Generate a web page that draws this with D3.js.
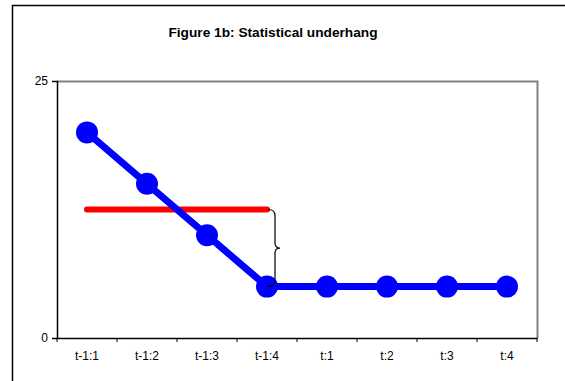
<!DOCTYPE html>
<html>
<head>
<meta charset="utf-8">
<script src="https://cdn.jsdelivr.net/npm/d3@7"></script>
<style>
  html, body { margin: 0; padding: 0; background: #fff; }
  svg { display: block; font-family: "Liberation Sans", Arial, sans-serif; }
</style>
</head>
<body>
<svg id="chart" width="565" height="381"></svg>
<script>
// Quarters of the previous year (t-1) and current year (t)
const categories = ["t-1:1", "t-1:2", "t-1:3", "t-1:4", "t:1", "t:2", "t:3", "t:4"];
// Quarterly level series
const quarterly = [20, 15, 10, 5, 5, 5, 5, 5];
// Annual average of the previous year, drawn across its four quarters
const prevYearCats = ["t-1:1", "t-1:2", "t-1:3", "t-1:4"];
const prevYearAverage = d3.mean(quarterly.slice(0, 4));
const yTicks = [0, 25];
const title = "Figure 1b: Statistical underhang";

const FONT = "'Liberation Sans', Arial, sans-serif";
const svg = d3.select("#chart");
const plot = { left: 57, right: 537, top: 81, bottom: 338 };

// Outer frame
svg.append("rect")
  .attr("x", 12.5).attr("y", 5.5)
  .attr("width", 600).attr("height", 400)
  .attr("fill", "#fff").attr("stroke", "#000").attr("stroke-width", 1.5);

// Title
svg.append("text")
  .attr("x", 273).attr("y", 37)
  .attr("text-anchor", "middle")
  .attr("font-family", FONT)
  .attr("font-size", 13.7).attr("font-weight", "bold")
  .text(title);

const x = d3.scaleBand().domain(categories).range([plot.left, plot.right]);
const y = d3.scaleLinear().domain([0, 25]).range([plot.bottom, plot.top]);
const cx = c => x(c) + x.bandwidth() / 2;

// Plot area frame: grey on top and right
svg.append("path")
  .attr("d", `M${plot.left},${plot.top + 0.5}H${plot.right + 0.5}V${plot.bottom}`)
  .attr("fill", "none").attr("stroke", "#808080").attr("stroke-width", 2);

// Y axis
const yAxis = svg.append("g")
  .attr("transform", `translate(${plot.left},0)`)
  .call(d3.axisLeft(y).tickValues(yTicks).tickSize(5).tickPadding(4).tickFormat(d3.format("d")));
yAxis.select(".domain").attr("stroke", "#000").attr("stroke-width", 1.5);
yAxis.selectAll(".tick line").attr("stroke", "#000");
yAxis.selectAll("text").attr("font-size", 12).attr("font-family", FONT).attr("fill", "#000");

// X axis with ticks on band boundaries
const xAxis = svg.append("g")
  .attr("transform", `translate(0,${plot.bottom})`)
  .call(d3.axisBottom(x).tickSize(0).tickPadding(13));
xAxis.select(".domain").attr("stroke", "#000").attr("stroke-width", 1.5);
xAxis.selectAll("text").attr("font-size", 12).attr("font-family", FONT).attr("fill", "#000");
const bounds = categories.map(c => x(c)).concat([x(categories[categories.length - 1]) + x.bandwidth()]);
svg.append("g").selectAll("line").data(bounds).join("line")
  .attr("x1", d => d).attr("x2", d => d)
  .attr("y1", plot.bottom).attr("y2", plot.bottom + 4)
  .attr("stroke", "#000").attr("stroke-width", 1);

// Previous-year average line
svg.append("line")
  .attr("x1", cx(prevYearCats[0])).attr("x2", cx(prevYearCats[prevYearCats.length - 1]))
  .attr("y1", y(prevYearAverage)).attr("y2", y(prevYearAverage))
  .attr("stroke", "#ff0000").attr("stroke-width", 6).attr("stroke-linecap", "round");

// Quarterly series line and markers
const line = d3.line().x((d, i) => cx(categories[i])).y(d => y(d));
svg.append("path")
  .datum(quarterly)
  .attr("d", line)
  .attr("fill", "none").attr("stroke", "#0000ff").attr("stroke-width", 7);
svg.append("g").selectAll("circle").data(quarterly).join("circle")
  .attr("cx", (d, i) => cx(categories[i])).attr("cy", d => y(d))
  .attr("r", 11).attr("fill", "#0000ff");

// Brace marking the gap between the average and the last quarter
const bx = cx(prevYearCats[prevYearCats.length - 1]);
const yTop = y(prevYearAverage), yBot = y(quarterly[3]);
const yMid = (yTop + yBot) / 2;
const bxL = bx + 1, bxV = bx + 8, bxT = bx + 13;
svg.append("path")
  .attr("d",
    `M${bxL},${yTop}Q${bxV},${yTop} ${bxV},${yTop + 6}` +
    `L${bxV},${yMid - 5}Q${bxV},${yMid} ${bxT},${yMid}` +
    `Q${bxV},${yMid} ${bxV},${yMid + 5}` +
    `L${bxV},${yBot - 6}Q${bxV},${yBot} ${bxL},${yBot}`)
  .attr("fill", "none").attr("stroke", "#000").attr("stroke-width", 1.2);
</script>
</body>
</html>
